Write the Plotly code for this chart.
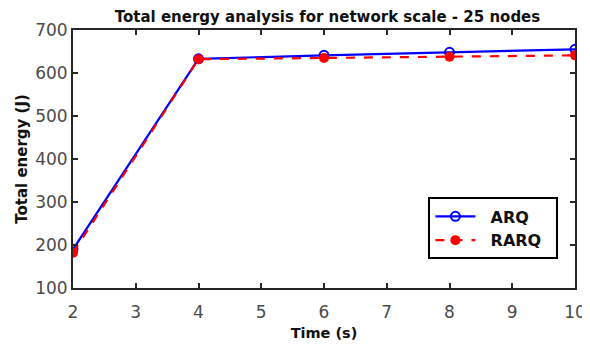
import plotly.graph_objects as go

time_s = [2, 4, 6, 8, 10]
arq = [190, 633, 641, 648, 655]
rarq = [182, 632, 635, 638, 641]
x_ticks = [2, 3, 4, 5, 6, 7, 8, 9, 10]
y_ticks = [100, 200, 300, 400, 500, 600, 700]

FONT = "DejaVu Sans, Arial"
PAD = "\u00a0\u00a0"

fig = go.Figure()
fig.add_trace(go.Scatter(
    x=time_s, y=arq, name=PAD + "<b>ARQ</b>" + PAD, mode="lines+markers",
    line=dict(color="#0000FF", width=2.2),
    marker=dict(symbol="circle-open", size=9, color="#0000FF", line=dict(width=2)),
))
fig.add_trace(go.Scatter(
    x=time_s, y=rarq, name=PAD + "<b>RARQ</b>" + PAD, mode="lines+markers",
    line=dict(color="#FF0000", width=2.2, dash="dash"),
    marker=dict(symbol="circle", size=10, color="#FF0000"),
))

axis_common = dict(
    showline=True, linecolor="#262626", linewidth=2,
    mirror="ticks", ticks="inside", ticklen=5, tickwidth=2, tickcolor="#262626",
    showgrid=False, zeroline=False,
    tickfont=dict(family=FONT, size=17, color="#4a4a4a"),
)

fig.update_layout(
    width=590, height=344,
    margin=dict(l=65, r=18, t=21, b=64),
    paper_bgcolor="white", plot_bgcolor="white",
    title=dict(text="<b>Total energy analysis for network scale - 25 nodes</b>",
               x=0.5415, xanchor="center", y=0.99, yanchor="top",
               font=dict(family=FONT, size=15, color="#111111")),
    xaxis=dict(range=[2, 10], tickvals=x_ticks, ticklabelstandoff=8,
               title=dict(text="<b>Time (s)</b>", standoff=6,
                          font=dict(family=FONT, size=14.5, color="#111111")),
               **axis_common),
    yaxis=dict(range=[100, 700], tickvals=y_ticks,
               title=dict(text="<b>Total energy (J)</b>", standoff=4,
                          font=dict(family=FONT, size=15, color="#111111")),
               **axis_common),
    legend=dict(x=0.708, y=0.351, xanchor="left", yanchor="top",
                bgcolor="white", bordercolor="black", borderwidth=2,
                font=dict(family=FONT, size=16, color="#111111"),
                itemwidth=40, tracegroupgap=0),
    showlegend=True,
)

fig.write_html("out.html")
